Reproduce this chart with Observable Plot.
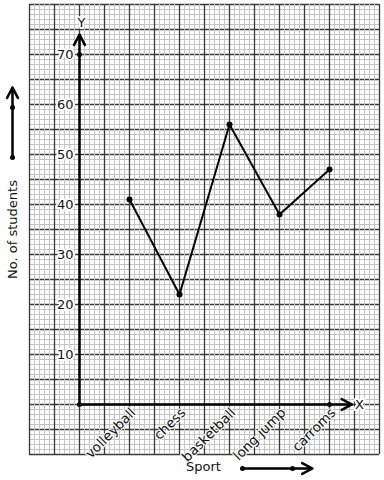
<!DOCTYPE html>
<html>
<head>
<meta charset="utf-8">
<script src="https://cdn.jsdelivr.net/npm/d3@7"></script>
<script src="https://cdn.jsdelivr.net/npm/@observablehq/plot@0.6"></script>
<style>
  html, body { margin: 0; padding: 0; background: #fff; }
  svg { display: block; font-family: "DejaVu Sans", sans-serif; }
</style>
</head>
<body>
<div id="chart"></div>
<script>
// Data
const categories = ["volleyball", "chess", "basketball", "long jump", "carroms"];
const students = [41, 22, 56, 38, 47];
const yTickLabels = [10, 20, 30, 40, 50, 60, 70];
const xTitle = "Sport";
const yTitle = "No. of students";

const rows = categories.map((c, i) => ({sport: c, pos: i + 1, value: students[i]}));

// Graph-paper grid positions
const gridXMinor = d3.range(-1, 6.0001, 0.1);
const gridXMajor = d3.range(-1, 6.0001, 0.5);
const gridYMinor = d3.range(-10, 80.0001, 1);
const gridYMajor = d3.range(-10, 80.0001, 5);

const minorColor = "#c4c4c4";
const majorColor = "#3a3a3a";
const ink = "#000";
const head = {stroke: ink, strokeWidth: 2.5, headLength: 7, headAngle: 55};

const chart = Plot.plot({
  width: 384,
  height: 480,
  marginLeft: 29,
  marginRight: 5,
  marginTop: 4,
  marginBottom: 26,
  style: {fontFamily: "DejaVu Sans, sans-serif", fontSize: "12px", background: "#fff", overflow: "visible"},
  x: {domain: [-1, 6], axis: null},
  y: {domain: [-10, 80], axis: null},
  marks: [
    Plot.ruleY(gridYMinor, {stroke: minorColor, strokeWidth: 1}),
    Plot.ruleY(gridYMajor, {stroke: majorColor, strokeWidth: 1.3}),
    Plot.ruleX(gridXMinor, {stroke: minorColor, strokeWidth: 1}),
    Plot.ruleX(gridXMajor, {stroke: majorColor, strokeWidth: 1.3}),
    // axes
    Plot.arrow([{x1: 0, y1: 0, x2: 0, y2: 74}], {x1: "x1", y1: "y1", x2: "x2", y2: "y2", ...head}),
    Plot.arrow([{x1: 0, y1: 0, x2: 5.45, y2: 0}], {x1: "x1", y1: "y1", x2: "x2", y2: "y2", ...head}),
    Plot.dot([[0, 0], [0, 70], [5, 0]], {x: d => d[0], y: d => d[1], r: 2.5, fill: ink, stroke: null}),
    // y tick labels
    Plot.text(yTickLabels, {x: 0, y: d => d, text: d => String(d), textAnchor: "end", dx: -6, fill: "#111", stroke: "#fff", strokeWidth: 4, fontSize: 13}),
    // axis letters
    Plot.text(["Y"], {x: 0, y: 76.4, text: d => d, dx: 2, fill: "#111", stroke: "#fff", strokeWidth: 4, fontSize: 13}),
    Plot.text(["X"], {x: 5.6, y: 0, text: d => d, fill: "#111", stroke: "#fff", strokeWidth: 4, fontSize: 13}),
    // category labels
    Plot.text(rows, {x: "pos", y: 0, text: "sport", rotate: -45, textAnchor: "end", lineAnchor: "bottom", dx: 7, dy: 9, fill: "#111", stroke: "#fff", strokeWidth: 2, fontSize: 13.5}),
    // data
    Plot.line(rows, {x: "pos", y: "value", stroke: ink, strokeWidth: 2}),
    Plot.dot(rows, {x: "pos", y: "value", r: 3, fill: ink, stroke: null}),
    // left title and arrow
    Plot.text([yTitle], {x: -1, y: 35, text: d => d, rotate: -90, dx: -17, fill: "#111", fontSize: 13}),
    Plot.arrow([{x1: -1.34, y1: 49.4, x2: -1.34, y2: 63.4}], {x1: "x1", y1: "y1", x2: "x2", y2: "y2", ...head}),
    Plot.dot([[-1.34, 49.4], [-1.34, 59.4]], {x: d => d[0], y: d => d[1], r: 2.5, fill: ink, stroke: null}),
    // bottom title and arrow
    Plot.text([xTitle], {x: 2.48, y: -12.4, text: d => d, fill: "#111", fontSize: 13}),
    Plot.arrow([{x1: 3.26, y1: -12.8, x2: 4.66, y2: -12.8}], {x1: "x1", y1: "y1", x2: "x2", y2: "y2", ...head}),
    Plot.dot([[3.26, -12.8], [4.26, -12.8]], {x: d => d[0], y: d => d[1], r: 2.5, fill: ink, stroke: null})
  ]
});
document.getElementById("chart").appendChild(chart);
</script>
</body>
</html>
